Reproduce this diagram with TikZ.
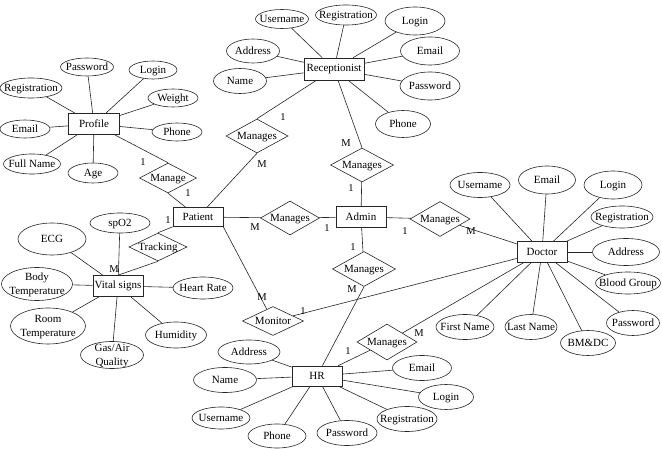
\documentclass[tikz,border=0pt]{standalone}
\usepackage{fontspec}
\setmainfont{Liberation Serif}
\usetikzlibrary{shapes.geometric}
\newcommand\et[1]{\makebox[0pt]{\raisebox{-0.33em}[0pt][0pt]{#1}}}
\newcommand\etw[2]{\makebox[0pt]{\raisebox{-0.33em}[0pt][0pt]{\begin{tabular}{@{}c@{}}#1\\#2\end{tabular}}}}
\tikzset{
  ent/.style={draw, rectangle, minimum height=21, minimum width=50, inner sep=0pt},
  att/.style 2 args={draw, ellipse, inner sep=0pt, minimum width=#1, minimum height=#2},
  rel/.style 2 args={draw, diamond, inner sep=0pt, minimum width=#1, minimum height=#2},
  card/.style={inner sep=0pt, font=\fontsize{10.5}{12}\selectfont},
}
\begin{document}
\begin{tikzpicture}[x=1pt, y=-1pt, line width=0.6pt, draw=black!85, font=\fontsize{11}{13.2}\selectfont]
\fill[white] (0,0) rectangle (662,449);
\useasboundingbox (0,0) rectangle (662,449);

% ---------- Profile ----------
\node[ent, minimum width=51] (prof) at (94,124) {Profile};
\node[att={53}{18}] (pr1) at (87,67) {\et{Password}};
\node[att={48}{18}] (pr2) at (153,70) {\et{Login}};
\node[att={62}{20}] (pr3) at (31,88) {\et{Registration}};
\node[att={50}{18}] (pr4) at (173,98) {\et{Weight}};
\node[att={50}{18}] (pr5) at (25,129) {\et{Email}};
\node[att={50}{18}] (pr6) at (177,132) {\et{Phone}};
\node[att={57}{20}] (pr7) at (32,164) {\et{Full Name}};
\node[att={50}{20}] (pr8) at (93,173) {\et{Age}};
\foreach \a in {pr1,pr2,pr3,pr4,pr5,pr6,pr7,pr8} \draw (prof) -- (\a);

\node[rel={57}{30}] (mg) at (168,178) {\et{Manage}};
\node[ent, minimum height=19] (pat) at (198,217) {Patient};

% ---------- Vital signs ----------
\node[rel={58}{28}] (trk) at (158,247) {\et{Tracking}};
\node[ent] (vit) at (118,286) {Vital signs};
\node[att={60}{20}] (v1) at (120,223) {\et{spO2}};
\node[att={68}{32}] (v2) at (52,239) {\et{ECG}};
\node[att={71}{33}] (v3) at (37,284) {\etw{Body}{Temperature}};
\node[att={60}{22}] (v4) at (203,288) {\et{Heart Rate}};
\node[att={75}{36}] (v5) at (48,326) {\etw{Room}{Temperature}};
\node[att={61}{26}] (v6) at (176,335) {\et{Humidity}};
\node[att={63}{27}] (v7) at (112,355) {\etw{Gas/Air}{Quality}};
\foreach \a in {v1,v2,v3,v4,v5,v6,v7} \draw (vit) -- (\a);

% ---------- Receptionist ----------
\node[ent, minimum width=60, minimum height=22] (rec) at (334,69) {Receptionist};
\node[att={53}{19}] (r1a) at (282,19) {\et{Username}};
\node[att={61}{20}] (r2a) at (346,15) {\et{Registration}};
\node[att={60}{28}] (r3a) at (415,21) {\et{Login}};
\node[att={59}{28}] (r4a) at (430,51) {\et{Email}};
\node[att={60}{28}] (r5a) at (430,86) {\et{Password}};
\node[att={55}{27}] (r6a) at (403,124) {\et{Phone}};
\node[att={53}{24}] (r7a) at (253,51) {\et{Address}};
\node[att={53}{25}] (r8a) at (240,81) {\et{Name}};
\foreach \a in {r1a,r2a,r3a,r4a,r5a,r6a,r7a,r8a} \draw (rec) -- (\a);

\node[rel={62}{34}] (rl1) at (257,136) {\et{Manages}};
\node[rel={63}{34}] (rl2) at (362,165) {\et{Manages}};

% ---------- Admin ----------
\node[ent] (adm) at (361,217) {Admin};
\node[rel={59}{34}] (pa) at (290,218) {\et{Manages}};
\node[rel={60}{35}] (ad) at (440,219) {\et{Manages}};
\node[rel={63}{35}] (ah) at (364,269) {\et{Manages}};
\node[rel={61}{29}] (mon) at (273,321) {\et{Monitor}};
\node[rel={60}{36}] (hd) at (387,342) {\et{Manages}};

% ---------- HR ----------
\node[ent, minimum height=20] (hr) at (317,376) {HR};
\node[att={62}{24}] (h1) at (249,352) {\et{Address}};
\node[att={63}{25}] (h2) at (225,380) {\et{Name}};
\node[att={58}{22}] (h3) at (221,418) {\et{Username}};
\node[att={58}{24}] (h4) at (277,436) {\et{Phone}};
\node[att={60}{25}] (h5) at (347,433) {\et{Password}};
\node[att={60}{25}] (h6) at (407,419) {\et{Registration}};
\node[att={55}{25}] (h7) at (446,397) {\et{Login}};
\node[att={59}{25}] (h8) at (422,368) {\et{Email}};
\foreach \a in {h1,h2,h3,h4,h5,h6,h7,h8} \draw (hr) -- (\a);

% ---------- Doctor ----------
\node[ent] (doc) at (542,252) {Doctor};
\node[att={60}{25}] (d1) at (480,185) {\et{Username}};
\node[att={57}{28}] (d2) at (547,180) {\et{Email}};
\node[att={58}{28}] (d3) at (613,185) {\et{Login}};
\node[att={62}{22}] (d4) at (622,217) {\et{Registration}};
\node[att={67}{27}] (d5) at (626,252) {\et{Address}};
\node[att={65}{22}] (d6) at (628,283) {\et{Blood Group}};
\node[att={53}{25}] (d7) at (633,323) {\et{Password}};
\node[att={55}{25}] (d8) at (588,343) {\et{BM\&DC}};
\node[att={52}{25}] (d9) at (531,327) {\et{Last Name}};
\node[att={58}{25}] (d10) at (465,327) {\et{First Name}};
\foreach \a in {d1,d2,d3,d4,d5,d6,d7,d8,d9,d10} \draw (doc) -- (\a);

% ---------- relationship connectors ----------
\draw (prof) -- (mg.north);
\draw (mg.south) -- (pat);
\draw (pat.south west) -- (trk.north);
\draw (trk.south) -- (vit.north);
\draw (rec) -- (rl1.north);
\draw (rl1.south) -- (pat);
\draw (rec) -- (rl2.north);
\draw (rl2) -- (adm);
\draw (pat) -- (pa);
\draw (pa) -- (adm);
\draw (adm) -- (ad);
\draw (ad) -- (doc);
\draw (adm) -- (ah);
\draw (ah.south) -- (hr);
\draw (pat.south east) -- (mon);
\draw (mon) -- (doc);
\draw (hr) -- (hd);
\draw (hd) -- (doc);

% ---------- cardinalities ----------
\node[card] (c1) at (143,162) {1};
\node[card] (c2) at (188,193) {1};
\node[card] (c3) at (168,220) {1};
\node[card] (c4) at (114,269) {M};
\node[card] (c5) at (283,117) {1};
\node[card] (c6) at (262,164) {M};
\node[card] (c7) at (346,143) {M};
\node[card] (c8) at (351,188) {1};
\node[card] (c9) at (255,227) {M};
\node[card] (c10) at (327,228) {1};
\node[card] (c11) at (405,231) {1};
\node[card] (c12) at (471,231) {M};
\node[card] (c13) at (353,247) {1};
\node[card] (c14) at (352,289) {M};
\node[card] (c15) at (262,297) {M};
\node[card] (c16) at (303,311) {1};
\node[card] (c17) at (348,351) {1};
\node[card] (c18) at (419,333) {M};
\end{tikzpicture}
\end{document}
